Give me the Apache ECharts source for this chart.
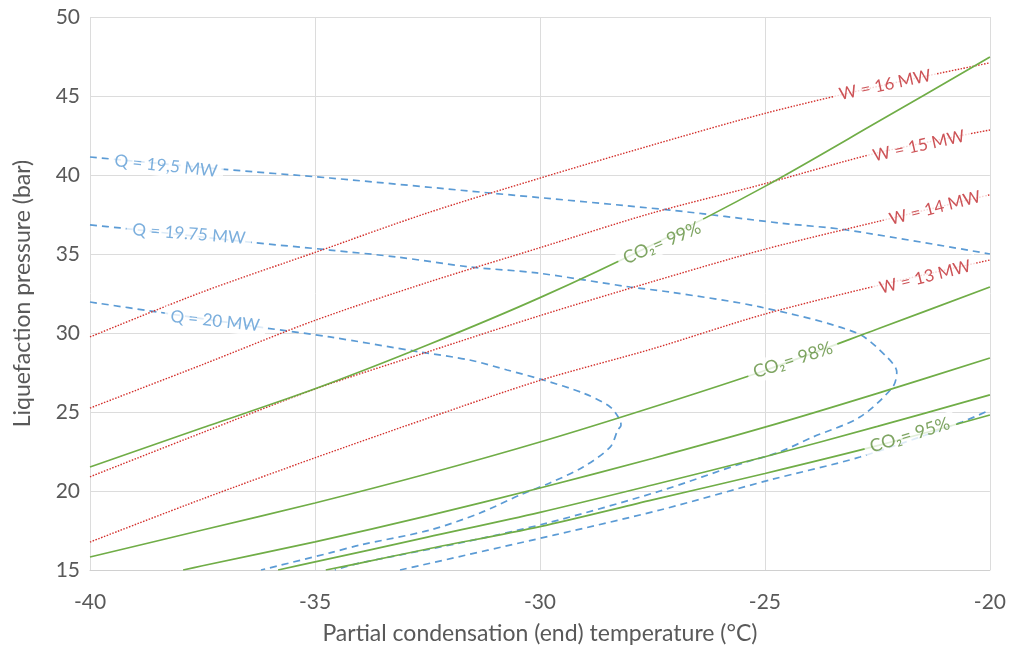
<!DOCTYPE html>
<html>
<head>
<meta charset="utf-8">
<script src="https://cdn.jsdelivr.net/npm/echarts@6/dist/echarts.min.js"></script>
<style>
html, body { margin: 0; padding: 0; background: #fff; }
#chart { width: 1009px; height: 655px; }
</style>
</head>
<body>
<div id="chart"></div>
<script>
// [temperature °C, pressure bar]
var w16 = [[-40, 29.75], [-37.5, 32.6], [-35, 35.1], [-32.5, 37.6], [-30, 39.8], [-27.5, 41.9], [-25, 43.9], [-22.5, 45.6], [-20, 47.1]];
var w15 = [[-40, 25.25], [-37.5, 28.0], [-35, 30.8], [-32.5, 33.2], [-30, 35.4], [-27.5, 37.6], [-25, 39.45], [-22.5, 41.4], [-20, 42.85]];
var w14 = [[-40, 20.9], [-37.5, 23.7], [-35, 26.45], [-32.5, 28.8], [-30, 31.1], [-27.5, 33.25], [-25, 35.3], [-22.5, 37.05], [-20, 38.75]];
var w13 = [[-40, 16.77], [-37.5, 19.5], [-35, 22.1], [-32.5, 24.6], [-30, 27.0], [-27.5, 29.0], [-25, 31.2], [-22.5, 33.0], [-20, 34.62]];

var co2_99 = [[-40, 21.52], [-37.5, 24.0], [-35, 26.47], [-32.5, 29.24], [-30, 32.24], [-27.5, 35.59], [-25, 39.28], [-22.5, 43.35], [-20, 47.47]];
var co2_98 = [[-40, 15.82], [-37.5, 17.53], [-35, 19.24], [-32.5, 21.09], [-30, 23.1], [-27.5, 25.3], [-25, 27.63], [-22.5, 30.25], [-20, 32.91]];
var co2_97 = [[-37.93, 15.0], [-37.5, 15.27], [-35, 16.78], [-32.5, 18.43], [-30, 20.19], [-27.5, 22.06], [-25, 24.04], [-22.5, 26.18], [-20, 28.42]];
var co2_96 = [[-35.82, 15.0], [-35, 15.51], [-32.5, 17.08], [-30, 18.65], [-27.5, 20.38], [-25, 22.17], [-22.5, 24.09], [-20, 26.08]];
var co2_95 = [[-34.76, 15.0], [-34, 15.44], [-32.5, 16.33], [-30, 17.75], [-27.5, 19.44], [-25, 21.11], [-22.5, 22.87], [-20, 24.81]];

var q20 = [[-40, 31.96], [-38.5, 31.33], [-36.1, 30.32], [-34.67, 29.75], [-32.67, 28.8], [-31.56, 28.29], [-30.73, 27.66],
	[-29.93, 27.03], [-29.04, 26.2], [-28.44, 25.32], [-28.22, 24.49], [-28.2, 24.15], [-28.27, 23.86], [-28.44, 22.78],
	[-29.04, 21.52], [-29.78, 20.51], [-30.44, 19.75], [-31.33, 18.61], [-32.44, 17.53], [-34.0, 16.58], [-34.67, 16.08], [-36.2, 15.0]];
var q1975 = [[-40, 36.84], [-39.33, 36.65], [-36.49, 35.76], [-34.67, 35.25], [-33.18, 34.81], [-31.56, 34.18], [-30.07, 33.8],
	[-28, 32.91], [-27.11, 32.59], [-25.11, 31.65], [-22.96, 30.0], [-22.29, 28.48], [-22.07, 27.53], [-22.16, 26.58],
	[-22.89, 24.68], [-23.93, 23.42], [-24.73, 22.41], [-25.49, 21.77], [-27.33, 20.0], [-29.84, 17.97], [-31.78, 16.71],
	[-34.0, 15.44], [-34.56, 15.0]];
var q195_upper = [[-40, 41.14], [-37.11, 40.38], [-34.67, 39.81], [-31.11, 38.86], [-27.11, 37.78], [-24.67, 36.96], [-23.18, 36.52], [-20, 35.0]];
var q195_lower = [[-33.11, 15.0], [-29.67, 17.22], [-27.33, 18.8], [-24.89, 20.7], [-22.89, 22.15], [-20.62, 24.37], [-20, 25.13]];

var xTicks = [-40, -35, -30, -25, -20];
var yTicks = [15, 20, 25, 30, 35, 40, 45, 50];

// curve labels: text, temperature, pressure, angle
var notesW = [['W = 16 MW', -22.33, 45.7, 12], ['W = 15 MW', -21.58, 41.84, 12.5], ['W = 14 MW', -21.22, 37.91, 14.5], ['W = 13 MW', -21.44, 33.54, 14]];
var notesQ = [['Q = 19,5 MW', -38.31, 40.57, -6], ['Q = 19.75 MW', -37.8, 36.27, -4.5], ['Q = 20 MW', -37.22, 30.76, -6]];
var notesCO2 = [['CO\u2082= 99%', -27.29, 35.7, 23], ['CO\u2082= 98%', -24.38, 28.29, 18], ['CO\u2082= 95%', -21.78, 23.54, 17]];

var FONT = 'Lato, "Open Sans", sans-serif';
var RED = '#d3302c', BLUE = '#5b9bd5', GREEN = '#70ad47';

function line(data, color, type, width) {
	return {
		type : 'line',
		data : data,
		smooth : 0.3,
		showSymbol : false,
		silent : true,
		lineStyle : { color : color, type : type, width : width },
		z : 2
	};
}

function notes(list, color, size) {
	return {
		type : 'scatter',
		symbolSize : 0,
		silent : true,
		z : 5,
		data : list.map(function (n) {
			return {
				value : [n[1], n[2]],
				label : { rotate : n[3], formatter : n[0] }
			};
		}),
		label : {
			show : true,
			position : 'inside',
			color : color,
			fontFamily : FONT,
			fontSize : size,
			backgroundColor : '#fff',
			padding : [2, 6]
		}
	};
}

var myChart = echarts.init(document.getElementById('chart'));
myChart.setOption({
	animation : false,
	backgroundColor : '#fff',
	grid : { left : 90, right : 19, top : 17, bottom : 85 },
	xAxis : {
		type : 'value',
		min : xTicks[0],
		max : xTicks[xTicks.length - 1],
		interval : 5,
		name : 'Partial condensation (end) temperature (°C)',
		nameLocation : 'middle',
		nameGap : 52,
		nameTextStyle : { fontFamily : FONT, fontSize : 23, color : '#595959' },
		axisLine : { lineStyle : { color : '#d0d0d0' } },
		axisTick : { show : false },
		axisLabel : { fontFamily : FONT, fontSize : 21, color : '#595959', margin : 22 },
		splitLine : { lineStyle : { color : '#dcdcdc' } }
	},
	yAxis : {
		type : 'value',
		min : yTicks[0],
		max : yTicks[yTicks.length - 1],
		interval : 5,
		name : 'Liquefaction pressure (bar)',
		nameLocation : 'middle',
		nameGap : 56,
		nameTextStyle : { fontFamily : FONT, fontSize : 23, color : '#595959' },
		axisLine : { show : false },
		axisTick : { show : false },
		axisLabel : { fontFamily : FONT, fontSize : 21, color : '#595959', margin : 10 },
		splitLine : { lineStyle : { color : '#dcdcdc' } }
	},
	series : [
		line(q195_upper, BLUE, [7, 5], 1.7),
		line(q195_lower, BLUE, [7, 5], 1.7),
		line(q1975, BLUE, [7, 5], 1.7),
		line(q20, BLUE, [7, 5], 1.7),
		line(w16, RED, [1.5, 1.5], 1.4),
		line(w15, RED, [1.5, 1.5], 1.4),
		line(w14, RED, [1.5, 1.5], 1.4),
		line(w13, RED, [1.5, 1.5], 1.4),
		line(co2_99, GREEN, 'solid', 1.7),
		line(co2_98, GREEN, 'solid', 1.7),
		line(co2_97, GREEN, 'solid', 1.7),
		line(co2_96, GREEN, 'solid', 1.7),
		line(co2_95, GREEN, 'solid', 1.7),
		notes(notesW, '#c0282d', 17),
		notes(notesQ, '#5b9bd5', 17),
		notes(notesCO2, '#5f8f3c', 18)
	]
});
</script>
</body>
</html>
